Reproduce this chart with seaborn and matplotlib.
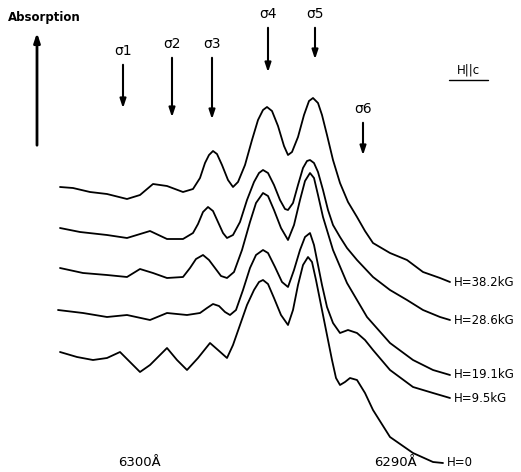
import numpy as np
import pandas as pd
import matplotlib
matplotlib.use("Agg")
import matplotlib.pyplot as plt
import seaborn as sns

# traces (x: position along the wavelength scale, y: drawn height, down = larger)
x_382 = [60, 73, 90, 107, 127, 140, 153, 167, 183, 193, 200, 205, 209, 213, 217, 222, 228, 233, 238, 245, 252, 258, 263, 267, 272, 278, 284, 288, 292, 298, 304, 309, 313, 318, 322, 327, 333, 340, 348, 357, 365, 373, 390, 407, 423, 440, 450]
y_382 = [187, 188, 192, 194, 199, 195, 184, 186, 192, 189, 178, 163, 155, 151, 154, 165, 180, 187, 182, 165, 140, 120, 110, 107, 111, 126, 146, 155, 152, 137, 115, 101, 98, 103, 115, 135, 160, 183, 202, 217, 231, 243, 253, 260, 272, 278, 282]

x_286 = [60, 80, 107, 127, 150, 167, 183, 193, 198, 203, 208, 213, 218, 223, 227, 233, 240, 247, 254, 259, 263, 268, 274, 280, 285, 288, 293, 298, 303, 307, 310, 314, 318, 323, 328, 333, 340, 347, 357, 373, 390, 407, 423, 440, 450]
y_286 = [228, 232, 235, 238, 231, 239, 239, 233, 224, 212, 207, 211, 222, 233, 238, 235, 222, 200, 182, 173, 170, 173, 185, 200, 209, 210, 203, 185, 168, 161, 160, 163, 172, 190, 210, 225, 237, 248, 260, 277, 290, 300, 310, 317, 320]

x_191 = [60, 83, 107, 127, 140, 153, 167, 183, 190, 196, 203, 209, 215, 221, 227, 234, 242, 250, 256, 263, 268, 274, 281, 288, 294, 300, 305, 310, 314, 318, 323, 333, 347, 367, 390, 413, 433, 450]
y_191 = [268, 273, 275, 277, 269, 273, 278, 277, 268, 259, 255, 260, 268, 276, 278, 272, 250, 222, 203, 193, 196, 210, 228, 240, 225, 200, 181, 173, 178, 195, 217, 250, 283, 317, 343, 360, 370, 375]

x_095 = [58, 83, 107, 127, 150, 167, 187, 200, 207, 213, 219, 225, 230, 236, 243, 250, 256, 263, 268, 275, 282, 288, 294, 300, 305, 310, 314, 318, 322, 327, 333, 340, 348, 357, 365, 373, 390, 413, 433, 450]
y_095 = [310, 313, 317, 315, 320, 313, 315, 313, 308, 304, 306, 312, 315, 310, 290, 268, 255, 250, 253, 267, 282, 287, 270, 250, 237, 233, 245, 265, 285, 307, 323, 333, 330, 333, 340, 350, 370, 387, 393, 398]

x_000 = [60, 77, 93, 107, 120, 130, 140, 150, 167, 177, 187, 198, 210, 218, 227, 233, 240, 247, 254, 259, 263, 268, 274, 281, 288, 293, 298, 303, 308, 312, 316, 320, 324, 328, 332, 336, 340, 345, 350, 357, 365, 373, 390, 413, 433, 443]
y_000 = [352, 357, 360, 358, 352, 362, 372, 365, 348, 360, 370, 358, 343, 350, 358, 345, 325, 305, 290, 282, 280, 284, 298, 315, 325, 310, 285, 265, 257, 262, 280, 300, 320, 340, 360, 378, 385, 382, 378, 380, 393, 410, 437, 453, 462, 463]

field_labels = ["H=38.2kG", "H=28.6kG", "H=19.1kG", "H=9.5kG", "H=0"]

# sigma component markers: label, x, arrow top, arrow tip
sigma_names = ["σ1", "σ2", "σ3", "σ4", "σ5", "σ6"]
sigma_x = [123, 172, 212, 268, 315, 363]
sigma_top = [62, 55, 55, 25, 25, 120]
sigma_tip = [111, 120, 122, 75, 62, 158]

wl_labels = ["6300Å", "6290Å"]
wl_x = [139, 395]

sns.set_theme(style="white")
plt.rcParams["font.family"] = ["DejaVu Sans"]
plt.rcParams["text.color"] = "black"

fig = plt.figure(figsize=(5.21, 4.72), dpi=100)
ax = fig.add_axes([0, 0, 1, 1])

traces = [(x_382, y_382), (x_286, y_286), (x_191, y_191), (x_095, y_095), (x_000, y_000)]
for (xs, ys), lab in zip(traces, field_labels):
    df = pd.DataFrame({"x": xs, "y": ys})
    sns.lineplot(data=df, x="x", y="y", sort=False, estimator=None, color="black", lw=1.3, ax=ax)
    ax.text(xs[-1] + 4, ys[-1], lab, fontsize=8.5, ha="left", va="center")

arrow_style = "-|>,head_width=0.15,head_length=0.45"
for name, sx, top, tip in zip(sigma_names, sigma_x, sigma_top, sigma_tip):
    ax.annotate("", xy=(sx, tip), xytext=(sx, top),
                arrowprops=dict(arrowstyle=arrow_style, color="black", lw=1.5))
    ax.text(sx, top - 4, name, fontsize=10, ha="center", va="bottom")

# absorption axis arrow
ax.annotate("", xy=(37, 30), xytext=(37, 148),
            arrowprops=dict(arrowstyle=arrow_style, color="black", lw=2))
ax.text(8, 24, "Absorption", fontsize=8.5, fontweight="bold", ha="left", va="bottom")

ax.text(468, 76, "H||c", fontsize=8.5, ha="center", va="bottom")
ax.plot([449, 488], [80, 80], color="black", lw=1)

for lab, wx in zip(wl_labels, wl_x):
    ax.text(wx, 462, lab, fontsize=9.5, ha="center", va="center")

ax.set_xlim(0, 521)
ax.set_ylim(472, 0)
ax.axis("off")

fig.savefig("out.png", dpi=100, facecolor="white")
